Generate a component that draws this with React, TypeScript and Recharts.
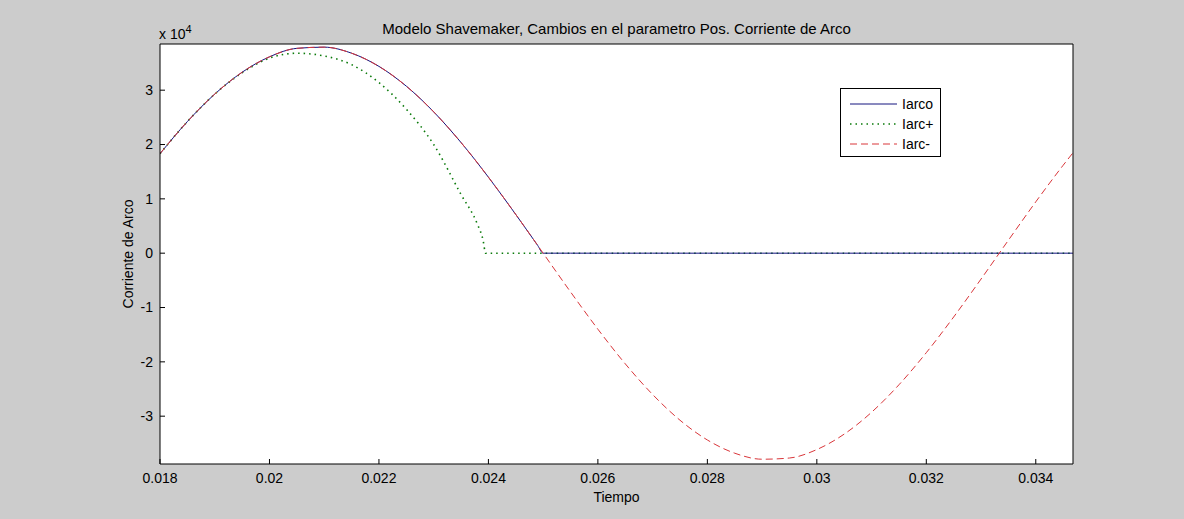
import { LineChart, Line, XAxis, YAxis, CartesianGrid, Legend } from 'recharts'

// tiempo (s) comun para Iarco e Iarc-
const tiempo = [
  0.018, 0.0185, 0.019, 0.0195, 0.02, 0.0205, 0.021, 0.0215, 0.022, 0.0225,
  0.023, 0.0235, 0.024, 0.0245, 0.0249, 0.025, 0.0255, 0.026, 0.0265, 0.027,
  0.0275, 0.028, 0.0285, 0.029, 0.0295, 0.03, 0.0305, 0.031, 0.0315, 0.032,
  0.0325, 0.033, 0.0335, 0.034, 0.0345, 0.03468,
]

const iarcMenos = [
  18310, 24220, 29280, 33300, 36140, 37700, 37920, 36810, 34380, 30740,
  26010, 20360, 13990, 7120, 1430, 0, -7120, -13990, -20360, -26010,
  -30740, -34380, -36810, -37920, -37700, -36140, -33300, -29280, -24220, -18310,
  -11740, -4760, 2390, 9450, 16180, 18480,
]

const iarco = [
  18310, 24220, 29280, 33300, 36140, 37700, 37920, 36810, 34380, 30740,
  26010, 20360, 13990, 7120, 1430, 0, 0, 0, 0, 0,
  0, 0, 0, 0, 0, 0, 0, 0, 0, 0,
  0, 0, 0, 0, 0, 0,
]

const tiempoMas = [
  0.018, 0.0185, 0.019, 0.0195, 0.02, 0.0205, 0.021, 0.0215, 0.022, 0.0225,
  0.023, 0.0235, 0.0238, 0.0239, 0.02395, 0.03468,
]
const iarcMas = [
  18310, 24220, 29280, 33200, 35900, 36800, 36300, 34700, 31400, 26500,
  20000, 10800, 5300, 2500, 0, 0,
]

const xTicks = [0.018, 0.02, 0.022, 0.024, 0.026, 0.028, 0.03, 0.032, 0.034]
const yTicks = [-30000, -20000, -10000, 0, 10000, 20000, 30000]

const FONT = '"Liberation Sans", Arial, sans-serif'
const AZUL = '#14147e'
const VERDE = '#0a7a0a'
const ROJO = '#d9363a'

const series = [
  { name: 'Iarco', color: AZUL, dash: undefined as string | undefined, width: 1 },
  { name: 'Iarc+', color: VERDE, dash: '1.5 4', width: 1.6 },
  { name: 'Iarc-', color: ROJO, dash: '7 4', width: 1 },
]

const rowsArco = tiempo.map((t, i) => ({ t, v: iarco[i] }))
const rowsMenos = tiempo.map((t, i) => ({ t, v: iarcMenos[i] }))
const rowsMas = tiempoMas.map((t, i) => ({ t, v: iarcMas[i] }))

function Leyenda() {
  return (
    <div
      style={{
        width: 99,
        height: 67,
        border: '1px solid #000',
        background: '#fff',
        fontFamily: FONT,
        fontSize: 14,
        boxSizing: 'content-box',
        position: 'relative',
      }}
    >
      {series.map((s, i) => (
        <div
          key={s.name}
          style={{ position: 'absolute', left: 9, top: 6 + i * 20, height: 18, display: 'flex', alignItems: 'center' }}
        >
          <svg width={47} height={18}>
            <line x1={0} y1={9} x2={47} y2={9} stroke={s.color} strokeWidth={s.width} strokeDasharray={s.dash} />
          </svg>
          <span style={{ marginLeft: 5, color: '#000' }}>{s.name}</span>
        </div>
      ))}
    </div>
  )
}

export default function App() {
  return (
    <div style={{ position: 'fixed', left: 0, top: 0, width: 1184, height: 519, background: '#cccccc', fontFamily: FONT }}>
      <div style={{ position: 'absolute', left: 0, width: 1233, top: 20, textAlign: 'center', fontSize: 15, color: '#000' }}>
        Modelo Shavemaker, Cambios en el parametro Pos. Corriente de Arco
      </div>
      <div style={{ position: 'absolute', left: 159, top: 23, fontSize: 14, color: '#000' }}>
        x 10<sup style={{ fontSize: 11, verticalAlign: 6 }}>4</sup>
      </div>
      <LineChart width={1184} height={519} margin={{ top: 43, right: 110, bottom: 25, left: 115 }}>
        <CartesianGrid fill="#ffffff" horizontal={false} vertical={false} />
        <XAxis
          dataKey="t"
          type="number"
          domain={[0.018, 0.03468]}
          allowDataOverflow
          ticks={xTicks}
          tickFormatter={(v) => String(v)}
          height={30}
          tickSize={-5}
          tickMargin={14}
          axisLine={{ stroke: '#000' }}
          tickLine={{ stroke: '#000' }}
          tick={{ fill: '#000', fontSize: 14, fontFamily: FONT }}
          interval={0}
          label={{ value: 'Tiempo', position: 'insideBottom', offset: -8, fill: '#000', fontSize: 14, fontFamily: FONT }}
        />
        <XAxis
          xAxisId="top"
          orientation="top"
          type="number"
          domain={[0.018, 0.03468]}
          allowDataOverflow
          ticks={xTicks}
          height={1}
          tickSize={-5}
          tick={false}
          axisLine={{ stroke: '#000' }}
          tickLine={{ stroke: '#000' }}
          interval={0}
        />
        <YAxis
          type="number"
          domain={[-38800, 38500]}
          allowDataOverflow
          ticks={yTicks}
          tickFormatter={(v) => String(v / 10000)}
          width={45}
          tickSize={-5}
          tickMargin={12}
          axisLine={{ stroke: '#000' }}
          tickLine={{ stroke: '#000' }}
          tick={{ fill: '#000', fontSize: 14, fontFamily: FONT }}
          interval={0}
          label={{
            content: (props: any) => {
              const vb = props.viewBox || { x: 0, y: 0, width: 0, height: 0 }
              const cx = vb.x + 13
              const cy = vb.y + vb.height / 2
              return (
                <text
                  x={cx}
                  y={cy}
                  transform={`rotate(-90, ${cx}, ${cy})`}
                  textAnchor="middle"
                  dominantBaseline="central"
                  fill="#000"
                  fontSize={14}
                  fontFamily={FONT}
                >
                  Corriente de Arco
                </text>
              )
            },
          }}
        />
        <YAxis
          yAxisId="right"
          orientation="right"
          type="number"
          domain={[-38800, 38500]}
          allowDataOverflow
          ticks={yTicks}
          width={1}
          tickSize={-5}
          tick={false}
          axisLine={{ stroke: '#000' }}
          tickLine={{ stroke: '#000' }}
          interval={0}
        />
        <Line
          data={rowsMas}
          dataKey="v"
          name="Iarc+"
          type="monotone"
          stroke={VERDE}
          strokeWidth={1.6}
          strokeDasharray="1.5 4"
          dot={false}
          isAnimationActive={false}
        />
        <Line
          data={rowsArco}
          dataKey="v"
          name="Iarco"
          type="monotone"
          stroke={AZUL}
          strokeWidth={1}
          dot={false}
          isAnimationActive={false}
        />
        <Line
          data={rowsMenos}
          dataKey="v"
          name="Iarc-"
          type="monotone"
          stroke={ROJO}
          strokeWidth={1}
          strokeDasharray="7 4"
          dot={false}
          isAnimationActive={false}
        />
        <Legend
          layout="vertical"
          align="center"
          verticalAlign="middle"
          wrapperStyle={{ left: 840, top: 88, width: 101 }}
          content={() => <Leyenda />}
        />
      </LineChart>
    </div>
  )
}
